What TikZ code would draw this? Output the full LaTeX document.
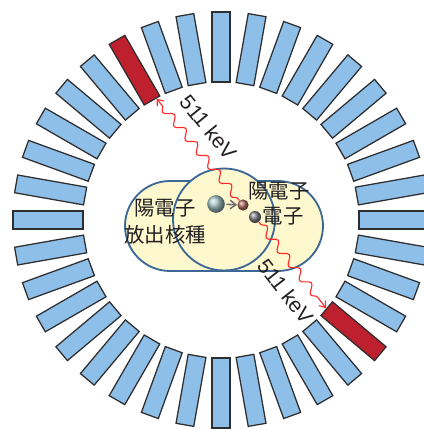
\documentclass[tikz,border=0pt]{standalone}
\usepackage{fontspec}
\setmainfont{Liberation Sans}
\newfontfamily\jpfont{Noto Sans CJK JP}
\usepackage{tikz}
\usetikzlibrary{arrows.meta, calc, decorations.pathmorphing, shadings}
\definecolor{clrDet}{HTML}{8DBFE9}
\definecolor{clrDetEdge}{HTML}{2E2E30}
\definecolor{clrHit}{HTML}{BE202E}
\definecolor{clrTube}{HTML}{FEF8CF}
\definecolor{clrTubeEdge}{HTML}{3D6896}
\definecolor{clrPhoton}{HTML}{FF2A2A}
\definecolor{clrInk}{HTML}{231F20}
\definecolor{clrNuc}{HTML}{A6C2C6}
\definecolor{clrPos}{HTML}{A8665C}
\definecolor{clrEle}{HTML}{7E7E88}
\definecolor{clrFlight}{HTML}{6E6E70}
\tikzset{
  det/.style={rectangle, draw=clrDetEdge, fill=clrDet, line width=0.9pt, minimum width=1.75cm, minimum height=0.45cm, inner sep=0pt},
  tube/.style={draw=clrTubeEdge, fill=clrTube, line width=1.3pt},
  particle/.style={circle, inner sep=0pt, shading=ball},
  flight/.style={-{Straight Barb[length=4pt, width=6pt]}, draw=clrFlight, line width=1.1pt, shorten <=1pt},
  photon/.style={draw=clrPhoton, line width=0.8pt, -{Straight Barb[length=4pt, width=6pt]},
    decorate, decoration={snake, amplitude=0.1cm, segment length=0.45cm, pre length=2pt, post length=5pt}},
  lbl/.style={font=\jpfont\fontsize{14.5}{19}\selectfont, text=clrInk, align=center, inner sep=0pt},
  kev/.style={font=\fontsize{15}{17}\selectfont, text=clrInk, inner sep=0pt, sloped},
}

\begin{document}
\begin{tikzpicture}[x=0.025cm, y=0.025cm]
  \useasboundingbox (0,0) rectangle (423,429);
  \coordinate (ctr) at (221,209);

  % Detector ring
  \foreach \i in {0,...,35} {
    \def\clr{clrDet}
    \ifnum\i=12 \def\clr{clrHit}\fi
    \ifnum\i=32 \def\clr{clrHit}\fi
    \node[det, fill=\clr, rotate={10*\i}] (d\i) at ($(ctr)+({10*\i}:173)$) {};
  }

  % Subject
  \draw[tube, rounded corners=1.125cm] (125,158) rectangle (323,248);
  \draw[tube] (224,209.5) circle (51);

  % Particles
  \node[particle, ball color=clrNuc, minimum size=0.44cm] (nuc) at (216,225) {};
  \node[particle, ball color=clrPos, minimum size=0.28cm] (pos) at (243,224) {};
  \node[particle, ball color=clrEle, minimum size=0.3cm] (ele) at (255,212) {};
  \draw[flight] (nuc) -- (pos);

  % Labels
  \node[lbl] (src) at (165,207.5) {陽電子\\放出核種};
  \node[lbl] (posl) at (279,238) {陽電子};
  \node[lbl] (elel) at (283,213) {電子};

  % Annihilation photons
  \draw[photon] (pos) -- ($(d12.west)!0.5!(d12.south west)$)
    node[kev, pos=0.58, above=0.34cm] {511 keV};
  \draw[photon] (ele) -- (d32.west)
    node[kev, pos=0.65, below=0.34cm] {511 keV};
\end{tikzpicture}
\end{document}
